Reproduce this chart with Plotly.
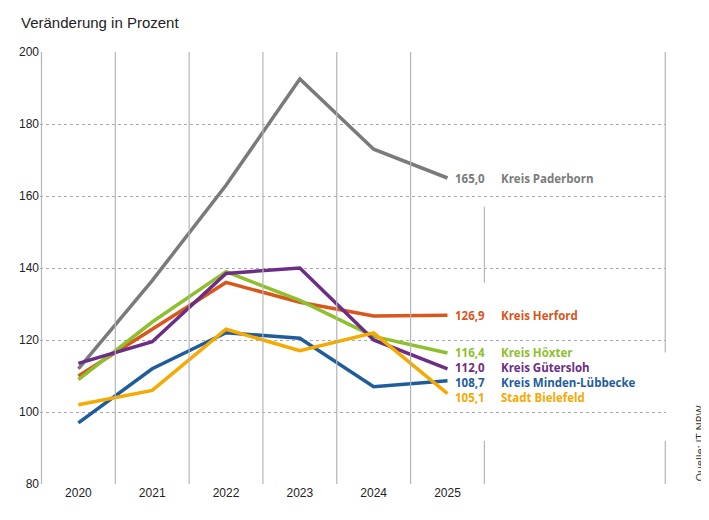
import plotly.graph_objects as go

years = [2020, 2021, 2022, 2023, 2024, 2025]
names = ["Kreis Paderborn", "Kreis Herford", "Kreis Höxter", "Kreis Gütersloh",
         "Kreis Minden-Lübbecke", "Stadt Bielefeld"]
values = [
    [112.0, 136.5, 163.0, 192.5, 173.0, 165.0],
    [110.0, 123.0, 136.0, 130.5, 126.7, 126.9],
    [109.0, 125.0, 139.0, 131.0, 121.0, 116.4],
    [113.5, 119.5, 138.5, 140.0, 120.0, 112.0],
    [97.0, 112.0, 122.0, 120.5, 107.0, 108.7],
    [102.0, 106.0, 123.0, 117.0, 122.0, 105.1],
]
labels = ["165,0", "126,9", "116,4", "112,0", "108,7", "105,1"]
label_y = [165.0, 126.9, 116.4, 112.4, 108.3, 104.0]
colors = ["#7a7a7a", "#d9561c", "#8dc02c", "#6b2d86", "#1f5c9e", "#f6a900"]

fig = go.Figure()
for name, vals, col in zip(names, values, colors):
    fig.add_trace(go.Scatter(x=years, y=vals, mode="lines", name=name,
                             line=dict(color=col, width=3.5)))

for lab, ly, name, col in zip(labels, label_y, names, colors):
    fig.add_annotation(x=2025.08, y=ly, text=f"<b>{lab}</b>", showarrow=False,
                       xanchor="left", font=dict(color=col, size=11.5, family="Open Sans"))
    fig.add_annotation(x=2025.7, y=ly, text=f"<b>{name}</b>", showarrow=False,
                       xanchor="left", font=dict(color=col, size=11.5, family="Open Sans"))

# vertical grid lines (between years) and right frame, with gaps around labels
grid = dict(color="#b5b5b5", width=1.2)
for xv in [2019.5, 2020.5, 2021.5, 2022.5, 2023.5, 2024.5]:
    fig.add_shape(type="line", x0=xv, x1=xv, y0=80, y1=202, line=grid)
for y0, y1 in [(136, 157), (80, 92)]:
    fig.add_shape(type="line", x0=2025.5, x1=2025.5, y0=y0, y1=y1, line=grid)
for y0, y1 in [(116.5, 202), (80, 92)]:
    fig.add_shape(type="line", x0=2027.95, x1=2027.95, y0=y0, y1=y1, line=grid)

fig.add_annotation(x=-0.034, y=1.045, xref="paper", yref="paper", xanchor="left",
                   yanchor="bottom", text="Veränderung in Prozent", showarrow=False,
                   font=dict(size=15, color="#222", family="Liberation Sans"))
fig.add_annotation(x=1.052, y=0.0, xref="paper", yref="paper", xanchor="center",
                   yanchor="bottom", text="Quelle: IT.NRW", textangle=-90, showarrow=False,
                   font=dict(size=11, color="#333", family="Open Sans"))

fig.update_layout(
    width=709, height=520, showlegend=False,
    paper_bgcolor="white", plot_bgcolor="white",
    margin=dict(l=32, r=51, t=44, b=44, autoexpand=False),
    xaxis=dict(range=[2019.48, 2027.96], tickvals=years, showgrid=False, zeroline=False,
               ticks="", tickfont=dict(size=12, color="#222", family="Liberation Sans")),
    yaxis=dict(range=[80, 200], dtick=20, showgrid=True, gridcolor="#a8a8a8",
               griddash="dot", gridwidth=1, zeroline=False, ticks="",
               tickfont=dict(size=12, color="#222", family="Liberation Sans")),
)

fig.write_html("out.html")
